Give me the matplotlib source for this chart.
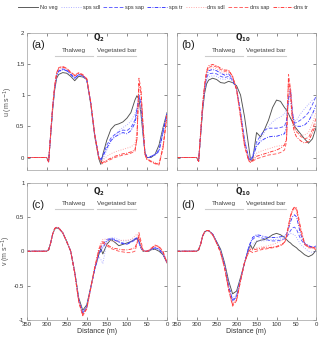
import numpy as np
import matplotlib
matplotlib.use("Agg")
import matplotlib.pyplot as plt

plt.rcParams['font.family'] = ['Liberation Sans', 'DejaVu Sans']
plt.rcParams['axes.unicode_minus'] = False

# distance along the cross-section (m)
dist = [350, 300, 295, 290, 285, 280, 275, 270, 260, 250, 240, 230, 220, 210, 200, 190, 180, 170,
        165, 160, 150, 140, 130, 120, 110, 100, 90, 80, 75, 70, 65, 60, 55, 50, 45, 40, 30, 20, 10, 0]

# (a) u, Q2
a_noveg   = [0, 0, -0.06, 0.35, 0.76, 1.08, 1.27, 1.33, 1.36, 1.35, 1.30, 1.23, 1.30, 1.29, 1.25, 0.85, 0.33, -0.02,
             -0.11, 0.05, 0.28, 0.45, 0.52, 0.54, 0.57, 0.63, 0.72, 0.92, 0.99, 0.93, 0.70, 0.38, 0.08, 0.00, 0.00, 0.00,
             0.05, 0.20, 0.48, 0.72]
a_sps_sdl = [0, 0, -0.05, 0.36, 0.78, 1.10, 1.30, 1.37, 1.40, 1.39, 1.33, 1.26, 1.32, 1.30, 1.25, 0.86, 0.35, 0.00,
             -0.06, -0.03, 0.12, 0.26, 0.36, 0.43, 0.48, 0.52, 0.58, 0.70, 0.80, 0.85, 0.72, 0.40, 0.08, 0.00, 0.00, 0.01,
             0.05, 0.15, 0.45, 0.71]
a_sps_sap = [0, 0, -0.06, 0.37, 0.80, 1.12, 1.32, 1.39, 1.42, 1.40, 1.34, 1.27, 1.33, 1.31, 1.25, 0.87, 0.36, 0.00,
             -0.04, 0.03, 0.20, 0.31, 0.37, 0.41, 0.44, 0.43, 0.48, 0.60, 0.78, 1.00, 0.86, 0.42, 0.06, 0.00, 0.00, 0.02,
             0.05, 0.12, 0.42, 0.70]
a_sps_tr  = [0, 0, -0.07, 0.37, 0.80, 1.12, 1.32, 1.38, 1.41, 1.39, 1.33, 1.27, 1.33, 1.31, 1.25, 0.87, 0.36, 0.01,
             -0.03, 0.02, 0.15, 0.27, 0.33, 0.37, 0.40, 0.38, 0.43, 0.55, 0.72, 0.95, 0.92, 0.50, 0.08, 0.00, 0.00, 0.02,
             0.04, 0.10, 0.40, 0.70]
a_dns_sdl = [0, 0, -0.06, 0.38, 0.82, 1.14, 1.34, 1.42, 1.44, 1.42, 1.36, 1.30, 1.35, 1.32, 1.26, 0.88, 0.36, 0.00,
             -0.05, -0.05, 0.02, 0.06, 0.09, 0.11, 0.13, 0.15, 0.17, 0.22, 0.40, 1.10, 1.00, 0.50, 0.05, -0.02, -0.03, -0.05,
             -0.08, -0.10, 0.20, 0.68]
a_dns_sap = [0, 0, -0.07, 0.38, 0.83, 1.15, 1.36, 1.44, 1.46, 1.43, 1.37, 1.32, 1.36, 1.33, 1.26, 0.88, 0.36, 0.00,
             -0.08, -0.10, -0.06, -0.03, 0.00, 0.02, 0.04, 0.05, 0.07, 0.10, 0.30, 1.27, 1.10, 0.55, 0.05, -0.03, -0.05, -0.07,
             -0.10, -0.12, 0.15, 0.68]
a_dns_tr  = [0, 0, -0.07, 0.38, 0.82, 1.14, 1.35, 1.43, 1.45, 1.42, 1.36, 1.31, 1.35, 1.32, 1.26, 0.88, 0.36, 0.00,
             -0.07, -0.08, -0.04, -0.01, 0.02, 0.04, 0.06, 0.07, 0.09, 0.12, 0.30, 1.18, 1.05, 0.52, 0.05, -0.03, -0.04, -0.06,
             -0.09, -0.11, 0.17, 0.68]

# (b) u, Q10
b_noveg   = [0, 0, -0.06, 0.35, 0.75, 1.03, 1.18, 1.24, 1.27, 1.25, 1.20, 1.19, 1.22, 1.20, 1.15, 1.00, 0.65, 0.20,
             -0.04, -0.05, 0.40, 0.33, 0.45, 0.60, 0.80, 0.92, 0.90, 0.80, 0.76, 0.70, 0.63, 0.57, 0.50, 0.46, 0.42, 0.38,
             0.30, 0.23, 0.30, 0.50]
b_sps_sdl = [0, 0, -0.06, 0.36, 0.78, 1.07, 1.24, 1.29, 1.31, 1.30, 1.26, 1.25, 1.27, 1.22, 1.10, 0.75, 0.30, 0.02,
             -0.03, 0.02, 0.20, 0.30, 0.40, 0.50, 0.57, 0.62, 0.65, 0.70, 0.78, 0.95, 0.88, 0.65, 0.58, 0.60, 0.65, 0.70,
             0.78, 0.85, 0.92, 0.95]
b_sps_sap = [0, 0, -0.06, 0.37, 0.80, 1.10, 1.28, 1.34, 1.35, 1.34, 1.30, 1.28, 1.30, 1.24, 1.10, 0.72, 0.27, 0.00,
             -0.04, 0.02, 0.25, 0.35, 0.44, 0.47, 0.47, 0.47, 0.48, 0.50, 0.60, 0.95, 1.05, 0.70, 0.55, 0.56, 0.58, 0.60,
             0.65, 0.72, 0.85, 1.00]
b_sps_tr  = [0, 0, -0.06, 0.38, 0.82, 1.12, 1.32, 1.39, 1.41, 1.39, 1.35, 1.32, 1.34, 1.26, 1.10, 0.70, 0.25, -0.02,
             -0.05, 0.00, 0.18, 0.26, 0.30, 0.33, 0.34, 0.34, 0.36, 0.38, 0.50, 0.95, 1.10, 0.72, 0.52, 0.50, 0.50, 0.50,
             0.52, 0.58, 0.70, 0.85]
b_dns_sdl = [0, 0, -0.06, 0.38, 0.83, 1.14, 1.36, 1.42, 1.44, 1.42, 1.38, 1.35, 1.36, 1.28, 1.10, 0.68, 0.22, -0.03,
             -0.06, -0.03, 0.07, 0.10, 0.12, 0.14, 0.16, 0.18, 0.19, 0.20, 0.30, 0.90, 1.15, 0.75, 0.50, 0.40, 0.38, 0.36,
             0.36, 0.40, 0.55, 0.75]
b_dns_sap = [0, 0, -0.06, 0.39, 0.84, 1.15, 1.37, 1.44, 1.47, 1.45, 1.41, 1.38, 1.39, 1.30, 1.10, 0.66, 0.20, -0.05,
             -0.08, -0.06, -0.02, 0.00, 0.02, 0.04, 0.05, 0.06, 0.08, 0.12, 0.25, 1.33, 1.10, 0.62, 0.48, 0.42, 0.38, 0.34,
             0.30, 0.32, 0.45, 0.65]
b_dns_tr  = [0, 0, -0.06, 0.40, 0.85, 1.17, 1.39, 1.47, 1.49, 1.47, 1.43, 1.40, 1.40, 1.30, 1.08, 0.64, 0.18, -0.04,
             -0.07, -0.05, 0.02, 0.04, 0.06, 0.08, 0.10, 0.12, 0.15, 0.20, 0.30, 1.25, 1.00, 0.55, 0.40, 0.33, 0.30, 0.27,
             0.23, 0.26, 0.40, 0.55]

# (c) v, Q2
c_noveg   = [0, 0, 0.02, 0.12, 0.25, 0.32, 0.34, 0.33, 0.27, 0.14, 0.00, -0.30, -0.68, -0.86, -0.78, -0.52, -0.25, -0.05,
             0.04, -0.04, 0.10, 0.17, 0.13, 0.08, 0.10, 0.12, 0.14, 0.17, 0.19, 0.15, 0.05, 0.00, 0.00, 0.00, 0.00, 0.02,
             0.03, 0.00, -0.05, -0.17]
c_sps_sdl = [0, 0, 0.02, 0.12, 0.25, 0.33, 0.35, 0.34, 0.27, 0.14, 0.00, -0.30, -0.70, -0.88, -0.80, -0.53, -0.26, -0.08,
             -0.12, -0.18, 0.13, 0.20, 0.19, 0.17, 0.15, 0.15, 0.17, 0.18, 0.20, 0.15, 0.05, 0.01, 0.00, 0.00, 0.01, 0.02,
             0.04, 0.02, -0.04, -0.17]
c_sps_sap = [0, 0, 0.02, 0.12, 0.25, 0.33, 0.35, 0.34, 0.27, 0.14, 0.00, -0.31, -0.71, -0.90, -0.81, -0.53, -0.25, -0.02,
             0.05, 0.10, 0.17, 0.19, 0.17, 0.14, 0.12, 0.10, 0.13, 0.16, 0.18, 0.12, 0.05, 0.02, 0.00, 0.00, 0.01, 0.03,
             0.05, 0.03, -0.03, -0.17]
c_sps_tr  = [0, 0, 0.02, 0.12, 0.25, 0.33, 0.35, 0.34, 0.27, 0.14, 0.00, -0.31, -0.71, -0.90, -0.81, -0.53, -0.26, -0.04,
             0.00, 0.05, 0.15, 0.18, 0.16, 0.13, 0.11, 0.10, 0.14, 0.18, 0.20, 0.14, 0.05, 0.01, 0.00, 0.00, 0.01, 0.03,
             0.05, 0.03, -0.04, -0.17]
c_dns_sdl = [0, 0, 0.02, 0.12, 0.25, 0.33, 0.35, 0.34, 0.27, 0.14, 0.00, -0.31, -0.72, -0.92, -0.82, -0.52, -0.22, 0.05,
             0.12, 0.17, 0.18, 0.15, 0.14, 0.15, 0.16, 0.16, 0.17, 0.22, 0.25, 0.22, 0.05, 0.00, 0.00, 0.00, 0.02, 0.05,
             0.08, 0.06, -0.02, -0.17]
c_dns_sap = [0, 0, 0.02, 0.12, 0.25, 0.33, 0.35, 0.34, 0.27, 0.14, 0.00, -0.32, -0.74, -0.94, -0.84, -0.54, -0.24, 0.00,
             0.07, 0.12, 0.08, 0.04, 0.02, 0.00, -0.01, -0.02, -0.02, 0.00, 0.10, 0.27, 0.15, 0.02, 0.00, 0.00, 0.01, 0.03,
             0.09, 0.07, 0.00, -0.17]
c_dns_tr  = [0, 0, 0.02, 0.12, 0.25, 0.33, 0.35, 0.34, 0.27, 0.14, 0.00, -0.32, -0.73, -0.93, -0.83, -0.53, -0.23, 0.02,
             0.10, 0.14, 0.10, 0.06, 0.04, 0.03, 0.02, 0.02, 0.03, 0.05, 0.12, 0.22, 0.10, 0.01, 0.00, 0.00, 0.01, 0.04,
             0.08, 0.06, -0.01, -0.17]

# (d) v, Q10
d_noveg   = [0, 0, 0.02, 0.10, 0.22, 0.28, 0.30, 0.30, 0.25, 0.14, 0.03, -0.17, -0.43, -0.62, -0.58, -0.38, -0.17, 0.03,
             0.09, 0.03, 0.14, 0.16, 0.17, 0.20, 0.24, 0.26, 0.24, 0.20, 0.17, 0.14, 0.12, 0.09, 0.07, 0.05, 0.02, 0.00,
             -0.05, -0.08, -0.05, 0.02]
d_sps_sdl = [0, 0, 0.02, 0.10, 0.22, 0.28, 0.30, 0.30, 0.25, 0.13, 0.01, -0.20, -0.48, -0.68, -0.63, -0.40, -0.17, 0.02,
             0.08, 0.10, 0.15, 0.15, 0.15, 0.16, 0.17, 0.17, 0.18, 0.20, 0.22, 0.24, 0.26, 0.25, 0.24, 0.20, 0.15, 0.10,
             0.05, 0.00, -0.02, 0.00]
d_sps_sap = [0, 0, 0.02, 0.10, 0.22, 0.28, 0.30, 0.30, 0.25, 0.13, 0.00, -0.21, -0.50, -0.71, -0.65, -0.41, -0.17, 0.05,
             0.12, 0.17, 0.22, 0.20, 0.18, 0.16, 0.15, 0.15, 0.16, 0.18, 0.20, 0.25, 0.30, 0.34, 0.35, 0.32, 0.25, 0.18,
             0.10, 0.08, 0.05, 0.08]
d_sps_tr  = [0, 0, 0.02, 0.10, 0.22, 0.28, 0.30, 0.30, 0.25, 0.13, 0.00, -0.21, -0.51, -0.73, -0.66, -0.41, -0.17, 0.05,
             0.13, 0.20, 0.24, 0.23, 0.21, 0.20, 0.20, 0.20, 0.21, 0.22, 0.25, 0.33, 0.43, 0.50, 0.53, 0.50, 0.38, 0.25,
             0.12, 0.08, 0.06, 0.05]
d_dns_sdl = [0, 0, 0.02, 0.10, 0.22, 0.28, 0.30, 0.30, 0.24, 0.12, -0.01, -0.23, -0.53, -0.76, -0.69, -0.42, -0.16, 0.00,
             0.05, 0.03, 0.05, 0.06, 0.07, 0.08, 0.10, 0.12, 0.14, 0.18, 0.25, 0.38, 0.50, 0.58, 0.62, 0.58, 0.45, 0.30,
             0.12, 0.06, 0.04, 0.03]
d_dns_sap = [0, 0, 0.02, 0.10, 0.22, 0.28, 0.30, 0.30, 0.24, 0.12, -0.02, -0.25, -0.56, -0.80, -0.72, -0.43, -0.16, -0.02,
             0.00, -0.02, 0.00, 0.02, 0.03, 0.04, 0.05, 0.06, 0.08, 0.12, 0.20, 0.35, 0.50, 0.60, 0.65, 0.60, 0.45, 0.30,
             0.10, 0.05, 0.05, 0.02]
d_dns_tr  = [0, 0, 0.02, 0.10, 0.22, 0.28, 0.30, 0.30, 0.24, 0.12, -0.02, -0.24, -0.55, -0.78, -0.71, -0.43, -0.16, -0.01,
             0.03, 0.02, 0.03, 0.04, 0.05, 0.05, 0.06, 0.07, 0.09, 0.13, 0.22, 0.38, 0.52, 0.60, 0.64, 0.63, 0.50, 0.35,
             0.12, 0.06, 0.06, 0.04]

labels = ['No veg', 'sps sdl', 'sps sap', 'sps tr', 'dns sdl', 'dns sap', 'dns tr']
colors = ['#505050', '#a8a8ff', '#5a5aff', '#3535ff', '#ffa0a0', '#ff5a5a', '#ff3535']
styles = ['-', ':', (0, (4, 2)), (0, (4, 1.5, 1, 1.5)), ':', (0, (4, 2)), (0, (4, 1.5, 1, 1.5))]

panels = {
    'a': [a_noveg, a_sps_sdl, a_sps_sap, a_sps_tr, a_dns_sdl, a_dns_sap, a_dns_tr],
    'b': [b_noveg, b_sps_sdl, b_sps_sap, b_sps_tr, b_dns_sdl, b_dns_sap, b_dns_tr],
    'c': [c_noveg, c_sps_sdl, c_sps_sap, c_sps_tr, c_dns_sdl, c_dns_sap, c_dns_tr],
    'd': [d_noveg, d_sps_sdl, d_sps_sap, d_sps_tr, d_dns_sdl, d_dns_sap, d_dns_tr],
}
flow = {'a': r'$\mathbf{Q_2}$', 'b': r'$\mathbf{Q_{10}}$', 'c': r'$\mathbf{Q_2}$', 'd': r'$\mathbf{Q_{10}}$'}

u_ticks = [0, 0.5, 1, 1.5, 2]
u_ticklabels = ['0', '0.5', '1', '1.5', '2']
v_ticks = [-1, -0.5, 0, 0.5, 1]
v_ticklabels = ['-1', '-0.5', '0', '0.5', '1']
x_ticks = [350, 300, 250, 200, 150, 100, 50, 0]

thalweg = (280, 185)
vegbar = (175, 77)

fig = plt.figure(figsize=(3.2, 3.47), dpi=100)
pos = {
    'a': [0.083, 0.510, 0.439, 0.396],
    'b': [0.552, 0.510, 0.437, 0.396],
    'c': [0.083, 0.078, 0.439, 0.396],
    'd': [0.552, 0.078, 0.437, 0.396],
}

handles = []
for key in ['a', 'b', 'c', 'd']:
    ax = fig.add_axes(pos[key])
    for ys, c, ls, lab in zip(panels[key], colors, styles, labels):
        ln, = ax.plot(dist, ys, color=c, ls=ls, lw=0.65, label=lab)
        if key == 'a':
            handles.append(ln)
    ax.set_xlim(350, 0)
    ax.set_xticks(x_ticks)
    if key in ('a', 'b'):
        ax.set_ylim(-0.2, 2)
        ax.set_yticks(u_ticks)
        ax.set_yticklabels(u_ticklabels)
        ylin, ytxt, yq, ylab = 1.63, 1.71, 1.91, 1.80
    else:
        ax.set_ylim(-1, 1)
        ax.set_yticks(v_ticks)
        ax.set_yticklabels(v_ticklabels)
        ylin, ytxt, yq, ylab = 0.61, 0.69, 0.86, 0.68
    if key in ('b', 'd'):
        ax.set_yticklabels([])
    if key in ('a', 'b'):
        ax.set_xticklabels([])
    else:
        ax.set_xticklabels([str(t) for t in x_ticks])
        ax.set_xlabel('Distance (m)', fontsize=5, color='#333333', labelpad=1)
    if key == 'a':
        ax.set_ylabel(r'u (m s$^{-1}$)', fontsize=5, color='#555555', labelpad=1)
    if key == 'c':
        ax.set_ylabel(r'v (m s$^{-1}$)', fontsize=5, color='#555555', labelpad=1)

    ax.tick_params(direction='in', length=2, width=0.4, labelsize=4.3, colors='#333333',
                   top=True, right=True, pad=1.5)
    for sp in ax.spines.values():
        sp.set_color('#a0a0a0')
        sp.set_linewidth(0.5)

    ax.plot(thalweg, [ylin, ylin], color='#cccccc', lw=0.8)
    ax.plot(vegbar, [ylin, ylin], color='#cccccc', lw=0.8)
    ax.text(sum(thalweg) / 2, ytxt, 'Thalweg', fontsize=4.6, color='#444444', ha='center', va='center')
    ax.text(sum(vegbar) / 2, ytxt, 'Vegetated bar', fontsize=4.6, color='#444444', ha='center', va='center')
    qx = 170 if key in ('a', 'c') else 183
    ax.text(qx, yq, flow[key], fontsize=5.5, color='#222222', ha='center', va='center')
    ax.text(322, ylab, '(' + key + ')', fontsize=8, color='#222222', ha='center', va='center')

fig.legend(handles=handles, labels=labels, loc='center', bbox_to_anchor=(0.51, 0.979), ncol=7,
           frameon=False, fontsize=4, handlelength=3.6, handletextpad=0.3, columnspacing=0.6,
           labelcolor='#333333')

fig.savefig('out.png', dpi=100)
